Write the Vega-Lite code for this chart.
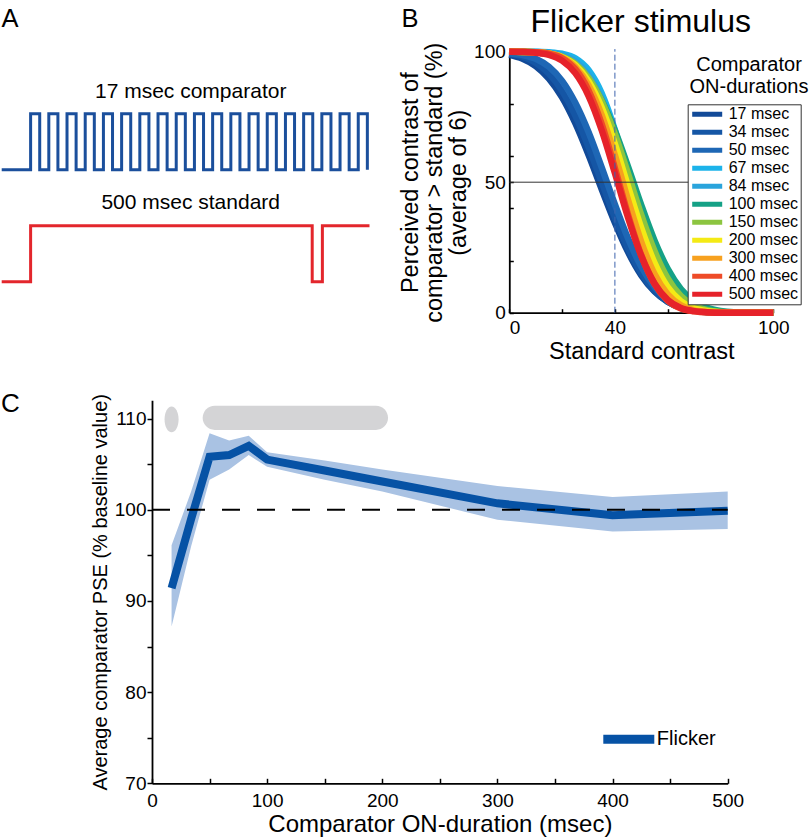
{
  "$schema": "https://vega.github.io/schema/vega-lite/v6.json",
  "width": 810,
  "height": 838,
  "autosize": {"type": "none"},
  "padding": 0,
  "config": {
    "view": {"stroke": null},
    "font": "Liberation Sans",
    "axis": {"grid": false, "domainColor": "#000", "tickColor": "#000", "labelColor": "#000", "titleColor": "#000", "titleFontWeight": "normal", "domainWidth": 1.8, "tickWidth": 1.5, "labelFlush": false, "labelFont": "Liberation Sans", "titleFont": "Liberation Sans"},
    "legend": {"labelColor": "#000", "labelFont": "Liberation Sans", "labelLimit": 300},
    "text": {"color": "#000", "font": "Liberation Sans"}
  },
  "datasets": {
    "comp": [{"t":0,"lv":2},{"t":54,"lv":3},{"t":71,"lv":2},{"t":88,"lv":3},{"t":105,"lv":2},{"t":122,"lv":3},{"t":139,"lv":2},{"t":156,"lv":3},{"t":173,"lv":2},{"t":190,"lv":3},{"t":207,"lv":2},{"t":224,"lv":3},{"t":241,"lv":2},{"t":258,"lv":3},{"t":275,"lv":2},{"t":292,"lv":3},{"t":309,"lv":2},{"t":326,"lv":3},{"t":343,"lv":2},{"t":360,"lv":3},{"t":377,"lv":2},{"t":394,"lv":3},{"t":411,"lv":2},{"t":428,"lv":3},{"t":445,"lv":2},{"t":462,"lv":3},{"t":479,"lv":2},{"t":496,"lv":3},{"t":513,"lv":2},{"t":530,"lv":3},{"t":547,"lv":2},{"t":564,"lv":3},{"t":581,"lv":2},{"t":598,"lv":3},{"t":615,"lv":2},{"t":632,"lv":3},{"t":649,"lv":2},{"t":666,"lv":3},{"t":683,"lv":2}],
    "std": [{"t":0,"lv":0},{"t":54,"lv":1},{"t":580,"lv":0},{"t":599,"lv":1},{"t":687,"lv":1}],
    "atext": [{"t":353,"lv":3.275,"label":"17 msec comparator"},{"t":353,"lv":1.29,"label":"500 msec standard"}],
    "curves": [
      {"d":"17 msec","x":0,"y":98.8},{"d":"17 msec","x":5,"y":97.3},{"d":"17 msec","x":10,"y":94.5},{"d":"17 msec","x":15,"y":89.7},{"d":"17 msec","x":20,"y":82.5},{"d":"17 msec","x":25,"y":72.6},{"d":"17 msec","x":30,"y":60.5},{"d":"17 msec","x":35,"y":47.3},{"d":"17 msec","x":40,"y":34.5},{"d":"17 msec","x":45,"y":23.2},{"d":"17 msec","x":50,"y":14.3},{"d":"17 msec","x":55,"y":8.1},{"d":"17 msec","x":60,"y":4.2},{"d":"17 msec","x":65,"y":1.9},{"d":"17 msec","x":70,"y":0.8},{"d":"17 msec","x":75,"y":0.3},{"d":"17 msec","x":80,"y":0.1},{"d":"17 msec","x":90,"y":0},{"d":"17 msec","x":100,"y":0},
      {"d":"34 msec","x":0,"y":99.2},{"d":"34 msec","x":5,"y":98.1},{"d":"34 msec","x":10,"y":95.8},{"d":"34 msec","x":15,"y":91.6},{"d":"34 msec","x":20,"y":84.9},{"d":"34 msec","x":25,"y":75.5},{"d":"34 msec","x":30,"y":63.5},{"d":"34 msec","x":35,"y":50},{"d":"34 msec","x":40,"y":36.5},{"d":"34 msec","x":45,"y":24.5},{"d":"34 msec","x":50,"y":15.1},{"d":"34 msec","x":55,"y":8.4},{"d":"34 msec","x":60,"y":4.2},{"d":"34 msec","x":65,"y":1.9},{"d":"34 msec","x":70,"y":0.8},{"d":"34 msec","x":75,"y":0.3},{"d":"34 msec","x":80,"y":0.1},{"d":"34 msec","x":90,"y":0},{"d":"34 msec","x":100,"y":0},
      {"d":"50 msec","x":0,"y":99.3},{"d":"50 msec","x":5,"y":98.7},{"d":"50 msec","x":10,"y":97.3},{"d":"50 msec","x":15,"y":94.2},{"d":"50 msec","x":20,"y":88.8},{"d":"50 msec","x":25,"y":80.4},{"d":"50 msec","x":30,"y":69.2},{"d":"50 msec","x":35,"y":55.7},{"d":"50 msec","x":40,"y":41.5},{"d":"50 msec","x":45,"y":28.4},{"d":"50 msec","x":50,"y":17.6},{"d":"50 msec","x":55,"y":9.9},{"d":"50 msec","x":60,"y":5.0},{"d":"50 msec","x":65,"y":2.3},{"d":"50 msec","x":70,"y":0.9},{"d":"50 msec","x":75,"y":0.3},{"d":"50 msec","x":80,"y":0.1},{"d":"50 msec","x":90,"y":0},{"d":"50 msec","x":100,"y":0},
      {"d":"67 msec","x":0,"y":100},{"d":"67 msec","x":5,"y":100},{"d":"67 msec","x":10,"y":100},{"d":"67 msec","x":15,"y":99.8},{"d":"67 msec","x":20,"y":99.2},{"d":"67 msec","x":25,"y":97.5},{"d":"67 msec","x":30,"y":93.0},{"d":"67 msec","x":35,"y":84.1},{"d":"67 msec","x":40,"y":70.0},{"d":"67 msec","x":45,"y":51.9},{"d":"67 msec","x":50,"y":33.4},{"d":"67 msec","x":55,"y":18.3},{"d":"67 msec","x":60,"y":8.4},{"d":"67 msec","x":65,"y":3.2},{"d":"67 msec","x":70,"y":1.0},{"d":"67 msec","x":75,"y":0.2},{"d":"67 msec","x":80,"y":0.05},{"d":"67 msec","x":90,"y":0},{"d":"67 msec","x":100,"y":0},
      {"d":"84 msec","x":0,"y":100},{"d":"84 msec","x":5,"y":100},{"d":"84 msec","x":10,"y":99.9},{"d":"84 msec","x":15,"y":99.6},{"d":"84 msec","x":20,"y":98.7},{"d":"84 msec","x":25,"y":96.3},{"d":"84 msec","x":30,"y":91.1},{"d":"84 msec","x":35,"y":81.9},{"d":"84 msec","x":40,"y":68.4},{"d":"84 msec","x":45,"y":51.7},{"d":"84 msec","x":50,"y":34.8},{"d":"84 msec","x":55,"y":20.4},{"d":"84 msec","x":60,"y":10.4},{"d":"84 msec","x":65,"y":4.5},{"d":"84 msec","x":70,"y":1.7},{"d":"84 msec","x":75,"y":0.5},{"d":"84 msec","x":80,"y":0.1},{"d":"84 msec","x":90,"y":0},{"d":"84 msec","x":100,"y":0},
      {"d":"100 msec","x":0,"y":100},{"d":"100 msec","x":5,"y":99.9},{"d":"100 msec","x":10,"y":99.7},{"d":"100 msec","x":15,"y":99.1},{"d":"100 msec","x":20,"y":97.7},{"d":"100 msec","x":25,"y":94.8},{"d":"100 msec","x":30,"y":89.6},{"d":"100 msec","x":35,"y":81.3},{"d":"100 msec","x":40,"y":69.8},{"d":"100 msec","x":45,"y":55.9},{"d":"100 msec","x":50,"y":41.2},{"d":"100 msec","x":55,"y":27.7},{"d":"100 msec","x":60,"y":16.8},{"d":"100 msec","x":65,"y":9.1},{"d":"100 msec","x":70,"y":4.4},{"d":"100 msec","x":75,"y":1.9},{"d":"100 msec","x":80,"y":0.7},{"d":"100 msec","x":85,"y":0.2},{"d":"100 msec","x":90,"y":0.1},{"d":"100 msec","x":100,"y":0},
      {"d":"150 msec","x":0,"y":100},{"d":"150 msec","x":5,"y":99.9},{"d":"150 msec","x":10,"y":99.8},{"d":"150 msec","x":15,"y":99.3},{"d":"150 msec","x":20,"y":98.1},{"d":"150 msec","x":25,"y":95.4},{"d":"150 msec","x":30,"y":90.0},{"d":"150 msec","x":35,"y":81.1},{"d":"150 msec","x":40,"y":68.4},{"d":"150 msec","x":45,"y":53.2},{"d":"150 msec","x":50,"y":37.4},{"d":"150 msec","x":55,"y":23.6},{"d":"150 msec","x":60,"y":13.1},{"d":"150 msec","x":65,"y":6.4},{"d":"150 msec","x":70,"y":2.7},{"d":"150 msec","x":75,"y":1.0},{"d":"150 msec","x":80,"y":0.3},{"d":"150 msec","x":85,"y":0.1},{"d":"150 msec","x":90,"y":0},{"d":"150 msec","x":100,"y":0},
      {"d":"200 msec","x":0,"y":100},{"d":"200 msec","x":5,"y":99.9},{"d":"200 msec","x":10,"y":99.8},{"d":"200 msec","x":15,"y":99.3},{"d":"200 msec","x":20,"y":97.9},{"d":"200 msec","x":25,"y":94.8},{"d":"200 msec","x":30,"y":88.7},{"d":"200 msec","x":35,"y":78.6},{"d":"200 msec","x":40,"y":64.6},{"d":"200 msec","x":45,"y":48.3},{"d":"200 msec","x":50,"y":32.4},{"d":"200 msec","x":55,"y":19.1},{"d":"200 msec","x":60,"y":9.8},{"d":"200 msec","x":65,"y":4.4},{"d":"200 msec","x":70,"y":1.7},{"d":"200 msec","x":75,"y":0.6},{"d":"200 msec","x":80,"y":0.2},{"d":"200 msec","x":90,"y":0},{"d":"200 msec","x":100,"y":0},
      {"d":"300 msec","x":0,"y":100},{"d":"300 msec","x":5,"y":100},{"d":"300 msec","x":10,"y":99.8},{"d":"300 msec","x":15,"y":99.3},{"d":"300 msec","x":20,"y":97.7},{"d":"300 msec","x":25,"y":94.1},{"d":"300 msec","x":30,"y":87.1},{"d":"300 msec","x":35,"y":75.7},{"d":"300 msec","x":40,"y":60.3},{"d":"300 msec","x":45,"y":43.1},{"d":"300 msec","x":50,"y":27.1},{"d":"300 msec","x":55,"y":14.8},{"d":"300 msec","x":60,"y":7.0},{"d":"300 msec","x":65,"y":2.8},{"d":"300 msec","x":70,"y":0.9},{"d":"300 msec","x":75,"y":0.3},{"d":"300 msec","x":80,"y":0.1},{"d":"300 msec","x":90,"y":0},{"d":"300 msec","x":100,"y":0},
      {"d":"400 msec","x":0,"y":100},{"d":"400 msec","x":5,"y":100},{"d":"400 msec","x":10,"y":99.8},{"d":"400 msec","x":15,"y":99.2},{"d":"400 msec","x":20,"y":97.5},{"d":"400 msec","x":25,"y":93.3},{"d":"400 msec","x":30,"y":85.2},{"d":"400 msec","x":35,"y":72.3},{"d":"400 msec","x":40,"y":55.4},{"d":"400 msec","x":45,"y":37.5},{"d":"400 msec","x":50,"y":22.0},{"d":"400 msec","x":55,"y":11.0},{"d":"400 msec","x":60,"y":4.6},{"d":"400 msec","x":65,"y":1.6},{"d":"400 msec","x":70,"y":0.5},{"d":"400 msec","x":75,"y":0.1},{"d":"400 msec","x":80,"y":0},{"d":"400 msec","x":100,"y":0},
      {"d":"500 msec","x":0,"y":100},{"d":"500 msec","x":5,"y":99.9},{"d":"500 msec","x":10,"y":99.6},{"d":"500 msec","x":15,"y":98.8},{"d":"500 msec","x":20,"y":96.6},{"d":"500 msec","x":25,"y":91.8},{"d":"500 msec","x":30,"y":83.1},{"d":"500 msec","x":35,"y":69.9},{"d":"500 msec","x":40,"y":53.5},{"d":"500 msec","x":45,"y":36.4},{"d":"500 msec","x":50,"y":21.7},{"d":"500 msec","x":55,"y":11.2},{"d":"500 msec","x":60,"y":4.9},{"d":"500 msec","x":65,"y":1.8},{"d":"500 msec","x":70,"y":0.6},{"d":"500 msec","x":75,"y":0.2},{"d":"500 msec","x":80,"y":0},{"d":"500 msec","x":100,"y":0}
    ],
    "pse": [
      {"x":17,"y":91.4,"lo":87.2,"hi":96.1,"series":"Flicker"},
      {"x":34,"y":99.0,"lo":96.0,"hi":102.0,"series":"Flicker"},
      {"x":50,"y":105.8,"lo":103.3,"hi":108.4,"series":"Flicker"},
      {"x":67,"y":106.0,"lo":104.4,"hi":107.6,"series":"Flicker"},
      {"x":84,"y":107.0,"lo":106.0,"hi":108.1,"series":"Flicker"},
      {"x":100,"y":105.5,"lo":104.7,"hi":106.3,"series":"Flicker"},
      {"x":150,"y":104.3,"lo":103.3,"hi":105.4,"series":"Flicker"},
      {"x":200,"y":103.1,"lo":102.0,"hi":104.4,"series":"Flicker"},
      {"x":300,"y":100.7,"lo":98.9,"hi":102.6,"series":"Flicker"},
      {"x":400,"y":99.4,"lo":97.6,"hi":101.4,"series":"Flicker"},
      {"x":500,"y":99.9,"lo":97.9,"hi":102.0,"series":"Flicker"}
    ]
  },
  "resolve": {
    "scale": {"x": "independent", "y": "independent", "color": "independent"},
    "axis": {"x": "independent", "y": "independent"},
    "legend": {"color": "independent"}
  },
  "layer": [
    {
      "data": {"name": "comp"},
      "mark": {"type": "line", "interpolate": "step-after", "color": "#1b4f9c", "strokeWidth": 3},
      "encoding": {
        "x": {"field": "t", "type": "quantitative", "scale": {"domain": [0, 690], "range": [1.7, 371.1], "nice": false, "zero": false}, "axis": null},
        "y": {"field": "lv", "type": "quantitative", "scale": {"domain": [0, 3], "range": [281.7, 113.7], "nice": false, "zero": false}, "axis": null}
      }
    },
    {
      "data": {"name": "std"},
      "mark": {"type": "line", "interpolate": "step-after", "color": "#e3262c", "strokeWidth": 3},
      "encoding": {
        "x": {"field": "t", "type": "quantitative", "scale": {"domain": [0, 690], "range": [1.7, 371.1], "nice": false, "zero": false}, "axis": null},
        "y": {"field": "lv", "type": "quantitative", "scale": {"domain": [0, 3], "range": [281.7, 113.7], "nice": false, "zero": false}, "axis": null}
      }
    },
    {
      "data": {"name": "atext"},
      "mark": {"type": "text", "fontSize": 21, "align": "center", "baseline": "alphabetic"},
      "encoding": {
        "x": {"field": "t", "type": "quantitative", "scale": {"domain": [0, 690], "range": [1.7, 371.1], "nice": false, "zero": false}, "axis": null},
        "y": {"field": "lv", "type": "quantitative", "scale": {"domain": [0, 3], "range": [281.7, 113.7], "nice": false, "zero": false}, "axis": null},
        "text": {"field": "label"}
      }
    },
    {
      "data": {"values": [{"t": 15.5, "lv": 4.554, "label": "A"}]},
      "mark": {"type": "text", "fontSize": 25.5, "align": "center", "baseline": "alphabetic"},
      "encoding": {
        "x": {"field": "t", "type": "quantitative", "scale": {"domain": [0, 690], "range": [1.7, 371.1], "nice": false, "zero": false}, "axis": null},
        "y": {"field": "lv", "type": "quantitative", "scale": {"domain": [0, 3], "range": [281.7, 113.7], "nice": false, "zero": false}, "axis": null},
        "text": {"field": "label"}
      }
    },
    {
      "data": {"name": "curves"},
      "mark": {"type": "line", "interpolate": "monotone", "strokeWidth": 6.5},
      "encoding": {
        "x": {"field": "x", "type": "quantitative", "scale": {"domain": [0, 100], "range": [509.3, 773.3], "nice": false, "zero": false},
          "axis": {"orient": "bottom", "offset": -525.3, "values": [0, 20, 40, 60, 80, 100], "labelExpr": "(datum.value == 0 || datum.value == 40 || datum.value == 100) ? datum.label : ''", "tickSize": -4, "labelPadding": 10, "labelFontSize": 19, "labelAlign": {"condition": {"test": "datum.value == 0", "value": "left"}, "value": "center"}, "title": "Standard contrast", "titleFontSize": 23.5, "titlePadding": 2}},
        "y": {"field": "y", "type": "quantitative", "scale": {"domain": [0, 100], "range": [312.7, 51.7], "nice": false, "zero": false},
          "axis": {"orient": "left", "offset": -509.3, "values": [0, 20, 40, 50, 60, 80, 100], "labelExpr": "(datum.value == 0 || datum.value == 50 || datum.value == 100) ? datum.label : ''", "tickSize": -4, "labelPadding": 8, "labelFontSize": 19, "title": ["Perceived contrast of", "comparator > standard (%)", "(average of 6)"], "titleFontSize": 23.5, "titleLineHeight": 24, "titlePadding": 3}},
        "color": {"field": "d", "type": "nominal",
          "scale": {"domain": ["17 msec", "34 msec", "50 msec", "67 msec", "84 msec", "100 msec", "150 msec", "200 msec", "300 msec", "400 msec", "500 msec"], "range": ["#124a98", "#1556a5", "#1e67b5", "#1cb3ea", "#2aa4dc", "#15a186", "#8cc540", "#f4ea15", "#f7a11f", "#ee4b28", "#e6222a"]},
          "legend": {"orient": "none", "legendX": 687.7, "legendY": 104.3, "title": null, "symbolType": "stroke", "symbolSize": 900, "symbolStrokeWidth": 5, "labelFontSize": 16, "labelOffset": 4, "padding": 2, "clipHeight": 16, "strokeColor": "#333", "fillColor": "#fff"}}
      }
    },
    {
      "data": {"values": [{}]},
      "mark": {"type": "rule", "color": "#333", "strokeWidth": 1},
      "encoding": {
        "x": {"datum": 0, "type": "quantitative", "scale": {"domain": [0, 100], "range": [509.3, 773.3], "nice": false, "zero": false}, "axis": null},
        "x2": {"datum": 100},
        "y": {"datum": 50, "type": "quantitative", "scale": {"domain": [0, 100], "range": [312.7, 51.7], "nice": false, "zero": false}, "axis": null}
      }
    },
    {
      "data": {"values": [{}]},
      "mark": {"type": "rule", "color": "#3d63ad", "strokeWidth": 1, "strokeDash": [6, 3]},
      "encoding": {
        "x": {"datum": 40, "type": "quantitative", "scale": {"domain": [0, 100], "range": [509.3, 773.3], "nice": false, "zero": false}, "axis": null},
        "y": {"datum": 0, "type": "quantitative", "scale": {"domain": [0, 100], "range": [312.7, 51.7], "nice": false, "zero": false}, "axis": null},
        "y2": {"datum": 101}
      }
    },
    {
      "data": {"values": [{"x": -37.6, "y": 109.6, "label": "B"}]},
      "mark": {"type": "text", "fontSize": 25.5, "align": "center", "baseline": "alphabetic"},
      "encoding": {
        "x": {"field": "x", "type": "quantitative", "scale": {"domain": [0, 100], "range": [509.3, 773.3], "nice": false, "zero": false}, "axis": null},
        "y": {"field": "y", "type": "quantitative", "scale": {"domain": [0, 100], "range": [312.7, 51.7], "nice": false, "zero": false}, "axis": null},
        "text": {"field": "label"}
      }
    },
    {
      "data": {"values": [{"x": 49.8, "y": 107.7, "label": "Flicker stimulus"}]},
      "mark": {"type": "text", "fontSize": 32, "align": "center", "baseline": "alphabetic"},
      "encoding": {
        "x": {"field": "x", "type": "quantitative", "scale": {"domain": [0, 100], "range": [509.3, 773.3], "nice": false, "zero": false}, "axis": null},
        "y": {"field": "y", "type": "quantitative", "scale": {"domain": [0, 100], "range": [312.7, 51.7], "nice": false, "zero": false}, "axis": null},
        "text": {"field": "label"}
      }
    },
    {
      "data": {"values": [{"x": 90.8, "y": 92.7, "label": "Comparator"}, {"x": 90.8, "y": 84.0, "label": "ON-durations"}]},
      "mark": {"type": "text", "fontSize": 20, "align": "center", "baseline": "alphabetic"},
      "encoding": {
        "x": {"field": "x", "type": "quantitative", "scale": {"domain": [0, 100], "range": [509.3, 773.3], "nice": false, "zero": false}, "axis": null},
        "y": {"field": "y", "type": "quantitative", "scale": {"domain": [0, 100], "range": [312.7, 51.7], "nice": false, "zero": false}, "axis": null},
        "text": {"field": "label"}
      }
    },
    {
      "data": {"name": "pse"},
      "mark": {"type": "area", "color": "#a9c2e3", "opacity": 1},
      "encoding": {
        "x": {"field": "x", "type": "quantitative", "scale": {"domain": [0, 500], "range": [152, 727.7], "nice": false, "zero": false},
          "axis": {"orient": "bottom", "offset": -54.7, "values": [0, 50, 100, 150, 200, 250, 300, 350, 400, 450, 500], "labelExpr": "datum.value % 100 == 0 ? datum.label : ''", "tickSize": -5, "labelPadding": 13, "labelFontSize": 19, "title": "Comparator ON-duration (msec)", "titleFontSize": 24, "titlePadding": 2}},
        "y": {"field": "lo", "type": "quantitative", "scale": {"domain": [70, 112], "range": [783.3, 400.3], "nice": false, "zero": false},
          "axis": {"orient": "left", "offset": -152, "values": [70, 75, 80, 85, 90, 95, 100, 105, 110], "labelExpr": "datum.value % 10 == 0 ? datum.label : ''", "tickSize": 5, "labelPadding": 1, "labelFontSize": 19, "title": "Average comparator PSE (% baseline value)", "titleFontSize": 20, "titlePadding": 4}},
        "y2": {"field": "hi"}
      }
    },
    {
      "data": {"name": "pse"},
      "mark": {"type": "line", "strokeWidth": 8, "strokeJoin": "miter"},
      "encoding": {
        "x": {"field": "x", "type": "quantitative", "scale": {"domain": [0, 500], "range": [152, 727.7], "nice": false, "zero": false}, "axis": null},
        "y": {"field": "y", "type": "quantitative", "scale": {"domain": [70, 112], "range": [783.3, 400.3], "nice": false, "zero": false}, "axis": null},
        "color": {"field": "series", "type": "nominal", "scale": {"domain": ["Flicker"], "range": ["#0652a5"]},
          "legend": {"orient": "none", "legendX": 598.8, "legendY": 729.3, "title": null, "symbolType": "stroke", "symbolSize": 2601, "symbolStrokeWidth": 9, "labelFontSize": 20, "labelOffset": -2, "padding": 0, "clipHeight": 20}}
      }
    },
    {
      "data": {"values": [{}]},
      "mark": {"type": "rule", "color": "#000", "strokeWidth": 2, "strokeDash": [18, 17]},
      "encoding": {
        "x": {"datum": 0, "type": "quantitative", "scale": {"domain": [0, 500], "range": [152, 727.7], "nice": false, "zero": false}, "axis": null},
        "x2": {"datum": 500},
        "y": {"datum": 100, "type": "quantitative", "scale": {"domain": [70, 112], "range": [783.3, 400.3], "nice": false, "zero": false}, "axis": null}
      }
    },
    {
      "data": {"values": [{}]},
      "mark": {"type": "point", "filled": true, "color": "#d4d4d6", "opacity": 1, "size": 660, "shape": "M 0 -1 A 0.545 1 0 1 1 0 1 A 0.545 1 0 1 1 0 -1 Z"},
      "encoding": {
        "x": {"datum": 17, "type": "quantitative", "scale": {"domain": [0, 500], "range": [152, 727.7], "nice": false, "zero": false}, "axis": null},
        "y": {"datum": 109.9, "type": "quantitative", "scale": {"domain": [70, 112], "range": [783.3, 400.3], "nice": false, "zero": false}, "axis": null}
      }
    },
    {
      "data": {"values": [{}]},
      "mark": {"type": "rect", "color": "#d4d4d6", "cornerRadius": 12.5},
      "encoding": {
        "x": {"datum": 44, "type": "quantitative", "scale": {"domain": [0, 500], "range": [152, 727.7], "nice": false, "zero": false}, "axis": null},
        "x2": {"datum": 205},
        "y": {"datum": 108.75, "type": "quantitative", "scale": {"domain": [70, 112], "range": [783.3, 400.3], "nice": false, "zero": false}, "axis": null},
        "y2": {"datum": 111.4}
      }
    },
    {
      "data": {"values": [{"x": -123, "y": 110.7, "label": "C"}]},
      "mark": {"type": "text", "fontSize": 26, "align": "center", "baseline": "alphabetic"},
      "encoding": {
        "x": {"field": "x", "type": "quantitative", "scale": {"domain": [0, 500], "range": [152, 727.7], "nice": false, "zero": false}, "axis": null},
        "y": {"field": "y", "type": "quantitative", "scale": {"domain": [70, 112], "range": [783.3, 400.3], "nice": false, "zero": false}, "axis": null},
        "text": {"field": "label"}
      }
    }
  ]
}
